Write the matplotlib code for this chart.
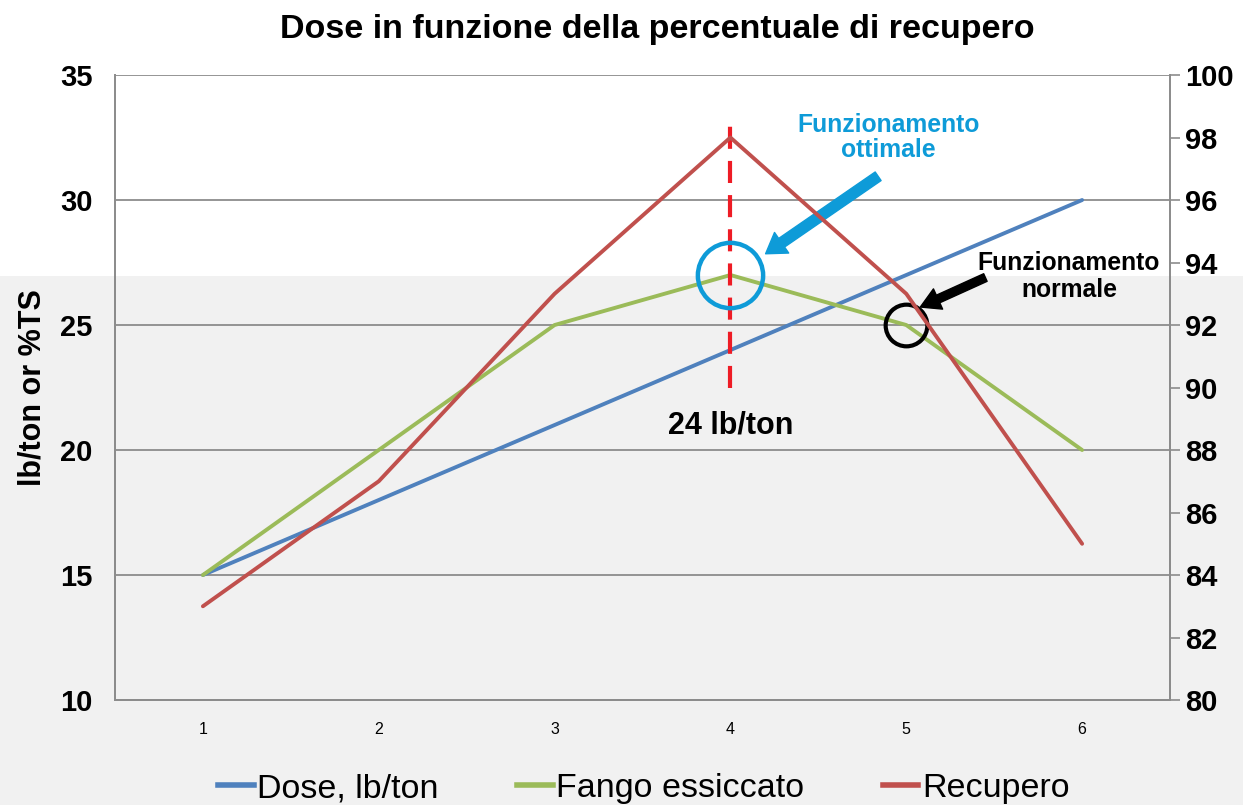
import matplotlib
matplotlib.use('Agg')
import matplotlib.pyplot as plt
from matplotlib.patches import Rectangle
from matplotlib.lines import Line2D

plt.rcParams['font.family'] = ['Liberation Sans', 'DejaVu Sans']

# Data
categories = [1, 2, 3, 4, 5, 6]
dose = [15, 18, 21, 24, 27, 30]
fango = [15, 20, 25, 27, 25, 20]
recupero = [83, 87, 93, 98, 93, 85]

fig = plt.figure(figsize=(12.43, 8.05), dpi=100)

# light grey band over the lower part of the picture
fig.patches.append(Rectangle((0, 0), 1, 0.657, transform=fig.transFigure,
                             facecolor='#f1f1f1', edgecolor='none', zorder=-10))

ax = fig.add_axes([0.0925, 0.1304, 0.8488, 0.7764])
ax.patch.set_alpha(0)
ax2 = ax.twinx()

blue = '#4f81bd'
green = '#9bbb59'
red = '#c0504d'
line_kw = dict(lw=2.8, solid_capstyle='round', solid_joinstyle='round', zorder=3)

ax.plot(categories, dose, color=blue, label='Dose, lb/ton', **line_kw)
ax.plot(categories, fango, color=green, label='Fango essiccato', **line_kw)
ax2.plot(categories, recupero, color=red, label='Recupero', **line_kw)

ax.set_xlim(0.5, 6.5)
ax.set_ylim(10, 35)
ax2.set_ylim(80, 100)
ax.set_xticks(categories)
ax.set_yticks([10, 15, 20, 25, 30, 35])
ax2.set_yticks(range(80, 101, 2))

ax.grid(axis='y', color='#8c8c8c', lw=1.3)
ax.set_axisbelow(True)
ax.spines['top'].set_visible(False)
ax2.spines['top'].set_visible(False)
for a in (ax, ax2):
    for s in ['left', 'right', 'bottom']:
        a.spines[s].set_color('#8c8c8c')
        a.spines[s].set_linewidth(1.3)

ax.tick_params(axis='y', length=0, labelsize=21, pad=16)
ax.tick_params(axis='x', length=0, labelsize=11.5, pad=16)
ax2.tick_params(axis='y', length=7, color='#8c8c8c', width=1.2, labelsize=21, pad=4)
for lbl in ax.get_yticklabels() + ax2.get_yticklabels():
    lbl.set_fontweight('bold')

ax.set_ylabel('lb/ton or %TS', fontsize=22, fontweight='bold')
ax.yaxis.set_label_coords(-0.064, 0.5)

fig.text(0.529, 0.963, 'Dose in funzione della percentuale di recupero', fontsize=24.5,
         fontweight='bold', ha='center', va='center')

# optimum marker line
ax.plot([4, 4], [22.5, 33.1], color='#ee1c25', lw=3, ls=(0, (5.3, 2.9)), zorder=4)
ax.text(4, 21.0, '24 lb/ton', ha='center', va='center', fontsize=22,
        fontweight='bold', color='black')

# circles
ax.plot([4], [27], marker='o', ms=47, mfc='none', mec='#0e9bd8', mew=3.2, zorder=5)
ax.plot([5], [25], marker='o', ms=30, mfc='none', mec='black', mew=3, zorder=5)

# arrows
ax.annotate('', xy=(4.2, 27.85), xytext=(4.84, 30.95),
            arrowprops=dict(arrowstyle='simple,head_length=1.4,head_width=1.8,tail_width=0.75',
                            color='#0e9bd8', shrinkA=0, shrinkB=0), zorder=6)
ax.annotate('', xy=(5.08, 25.72), xytext=(5.45, 26.9),
            arrowprops=dict(arrowstyle='simple,head_length=1.4,head_width=1.6,tail_width=0.6',
                            color='black', shrinkA=0, shrinkB=0), zorder=6)

ax.text(4.90, 32.5, 'Funzionamento\nottimale', ha='center', va='center',
        fontsize=17.8, fontweight='bold', color='#0e9bd8', linespacing=1.05)
ax.text(5.925, 26.95, 'Funzionamento\nnormale', ha='center', va='center',
        fontsize=17.8, fontweight='bold', color='black', linespacing=1.15)

handles = [Line2D([], [], color=blue, lw=4),
           Line2D([], [], color=green, lw=4),
           Line2D([], [], color=red, lw=4)]
fig.legend(handles, ['Dose, lb/ton', 'Fango essiccato', 'Recupero'],
           loc='lower center', bbox_to_anchor=(0.518, -0.037), ncol=3, frameon=False,
           fontsize=24.5, handlelength=1.05, handletextpad=0.1, columnspacing=2.3)

plt.savefig('out.png', dpi=100)
